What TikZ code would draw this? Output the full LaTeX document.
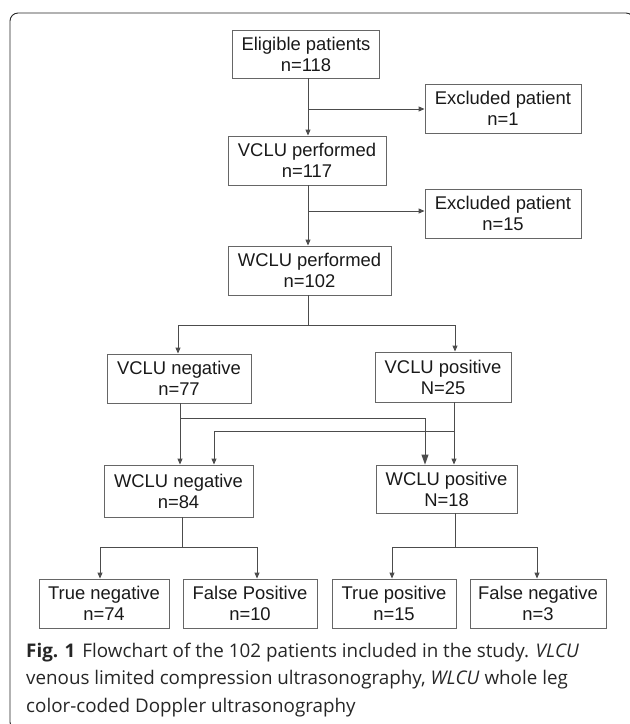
\documentclass[tikz,border=0pt]{standalone}
\usepackage{fontspec}
\setmainfont{Liberation Sans}
\newfontfamily\capfont{Open Sans}
\usetikzlibrary{arrows.meta}

\begin{document}
\begin{tikzpicture}[
        x=1pt, y=-1pt,
        box/.style={draw=black!60, line width=0.9pt, minimum height=49pt, inner sep=0pt, align=center, text=black!90, font=\fontsize{18.4}{21}\selectfont},
        link/.style={draw=black!70, line width=0.9pt, -{Triangle[length=6pt,width=5pt]}},
        biglink/.style={link, -{Triangle[length=10pt,width=7pt]}},
        bus/.style={draw=black!70, line width=0.9pt},
        caption/.style={anchor=base west, inner sep=0pt, text=black!85, font=\capfont\fontsize{18.8}{27}\selectfont}
    ]

        \clip (0,0) rectangle (630,724);
        \draw[black!85, line width=0.9pt, rounded corners=8pt] (10,13) rectangle (634,730);

        % main column
        \node[box, minimum width=147pt, minimum height=48pt] (elig) at (306,54) {Eligible patients\\n=118};
        \node[box, minimum width=156pt] (excl1) at (503,108.5) {Excluded patient\\n=1};
        \node[box, minimum width=158pt] (vclup) at (307,160.5) {VCLU performed\\n=117};
        \node[box, minimum width=156pt] (excl2) at (503,213.5) {Excluded patient\\n=15};
        \node[box, minimum width=163pt] (wclup) at (309.5,270.5) {WCLU performed\\n=102};

        \coordinate (s1) at (308,109);
        \coordinate (s2) at (308,211);
        \draw[link] (elig.south -| s1) -- (vclup.north -| s1);
        \draw[link] (s1) -- (excl1.west |- s1);
        \draw[link] (vclup.south -| s2) -- (wclup.north -| s2);
        \draw[link] (s2) -- (excl2.west |- s2);

        % VCLU results
        \node[box, minimum width=144pt] (vneg) at (179,378.5) {VCLU negative\\n=77};
        \node[box, minimum width=136pt, minimum height=50pt] (vpos) at (443,377) {VCLU positive\\N=25};

        \coordinate (s3) at (308,325);
        \coordinate (s3l) at (178,325);
        \coordinate (s3r) at (455,325);
        \draw[bus] (wclup.south -| s3) -- (s3);
        \draw[bus] (s3l) -- (s3r);
        \draw[link] (s3l) -- (vneg.north -| s3l);
        \draw[link] (s3r) -- (vpos.north -| s3r);

        % WCLU results
        \node[box, minimum width=149pt, minimum height=52pt] (wneg) at (178.5,491) {WCLU negative\\n=84};
        \node[box, minimum width=141pt, minimum height=48pt] (wpos) at (446.5,489) {WCLU positive\\N=18};

        \coordinate (c1) at (180,418);
        \coordinate (c1r) at (425,418);
        \coordinate (c2) at (454,431);
        \coordinate (c2l) at (214,431);
        \draw[link] (vneg.south -| c1) -- (wneg.north -| c1);
        \draw[bus] (c1) -- (c1r);
        \draw[biglink] (c1r) -- (wpos.north -| c1r);
        \draw[link] (vpos.south -| c2) -- (wpos.north -| c2);
        \draw[bus] (c2) -- (c2l);
        \draw[link] (c2l) -- (wneg.north -| c2l);

        % outcomes
        \node[box, minimum width=130pt] (tneg) at (104,603.5) {True negative\\n=74};
        \node[box, minimum width=134pt] (fpos) at (250,603.5) {False Positive\\n=10};
        \node[box, minimum width=124pt] (tpos) at (394,603.5) {True positive\\n=15};
        \node[box, minimum width=136pt] (fneg) at (538,603.5) {False negative\\n=3};

        \coordinate (s4) at (182,547);
        \coordinate (s4l) at (100,547);
        \coordinate (s4r) at (257,547);
        \coordinate (s5) at (455,547);
        \coordinate (s5l) at (392,547);
        \coordinate (s5r) at (537,547);
        \draw[bus] (wneg.south -| s4) -- (s4);
        \draw[bus] (s4l) -- (s4r);
        \draw[link] (s4l) -- (tneg.north -| s4l);
        \draw[link] (s4r) -- (fpos.north -| s4r);
        \draw[bus] (wpos.south -| s5) -- (s5);
        \draw[bus] (s5l) -- (s5r);
        \draw[link] (s5l) -- (tpos.north -| s5l);
        \draw[link] (s5r) -- (fneg.north -| s5r);

        % caption
        \node[caption] (cap1) at (26,657) {\textbf{Fig. 1}\hspace{7pt}Flowchart of the 102 patients included in the study. \textit{VLCU}};
        \node[caption] (cap2) at (26,684) {venous limited compression ultrasonography, \textit{WLCU} whole leg};
        \node[caption] (cap3) at (26,712) {color-coded Doppler ultrasonography};
    \end{tikzpicture}
\end{document}
